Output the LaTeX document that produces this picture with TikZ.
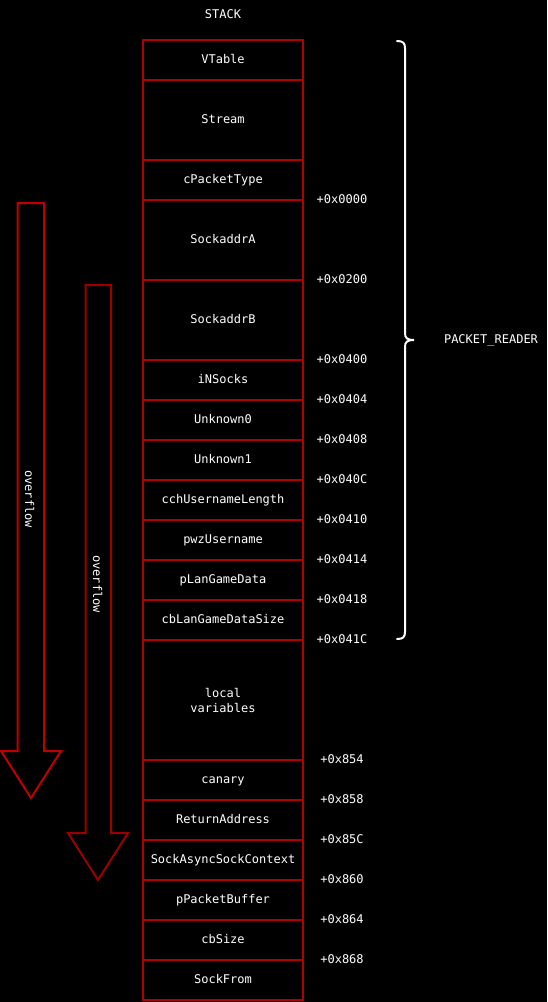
\documentclass[tikz,border=0pt]{standalone}
\usepackage{fontspec}
\setmonofont{DejaVu Sans Mono}
\definecolor{boxred}{HTML}{B00000}
\definecolor{arrred}{HTML}{C00000}
\definecolor{arrred2}{HTML}{9A0000}
\begin{document}
\begin{tikzpicture}[x=1pt,y=-1pt,
  txt/.style={text=white,font=\ttfamily\fontsize{12}{15}\selectfont,inner sep=0pt,text height=9.6pt,text depth=1.7pt},
  cell/.style={txt,draw=boxred,line width=2pt,minimum width=160pt,align=center},
  offs/.style={txt},
  bigarrow/.style={line width=2pt,line join=miter}]
\useasboundingbox[fill=black] (0,0) rectangle (547,1002);
\node[txt] (stack) at (223,15) {STACK};
% cells
\node[cell,minimum height=40pt] (c1) at (223,60) {VTable};
\node[cell,minimum height=80pt] (c2) at (223,120) {Stream};
\node[cell,minimum height=40pt] (c3) at (223,180) {cPacketType};
\node[cell,minimum height=80pt] (c4) at (223,240) {SockaddrA};
\node[cell,minimum height=80pt] (c5) at (223,320) {SockaddrB};
\node[cell,minimum height=40pt] (c6) at (223,380) {iNSocks};
\node[cell,minimum height=40pt] (c7) at (223,420) {Unknown0};
\node[cell,minimum height=40pt] (c8) at (223,460) {Unknown1};
\node[cell,minimum height=40pt] (c9) at (223,500) {cchUsernameLength};
\node[cell,minimum height=40pt] (c10) at (223,540) {pwzUsername};
\node[cell,minimum height=40pt] (c11) at (223,580) {pLanGameData};
\node[cell,minimum height=40pt] (c12) at (223,620) {cbLanGameDataSize};
\node[cell,minimum height=120pt,text height=,text depth=] (c13) at (223,700) {local\\variables};
\node[cell,minimum height=40pt] (c14) at (223,780) {canary};
\node[cell,minimum height=40pt] (c15) at (223,820) {ReturnAddress};
\node[cell,minimum height=40pt] (c16) at (223,860) {SockAsyncSockContext};
\node[cell,minimum height=40pt] (c17) at (223,900) {pPacketBuffer};
\node[cell,minimum height=40pt] (c18) at (223,940) {cbSize};
\node[cell,minimum height=40pt] (c19) at (223,980) {SockFrom};
% offsets
\node[offs] (o1) at (342,200) {+0x0000};
\node[offs] (o2) at (342,280) {+0x0200};
\node[offs] (o3) at (342,360) {+0x0400};
\node[offs] (o4) at (342,400) {+0x0404};
\node[offs] (o5) at (342,440) {+0x0408};
\node[offs] (o6) at (342,480) {+0x040C};
\node[offs] (o7) at (342,520) {+0x0410};
\node[offs] (o8) at (342,560) {+0x0414};
\node[offs] (o9) at (342,600) {+0x0418};
\node[offs] (o10) at (342,640) {+0x041C};
\node[offs] (o11) at (342,760) {+0x854};
\node[offs] (o12) at (342,800) {+0x858};
\node[offs] (o13) at (342,840) {+0x85C};
\node[offs] (o14) at (342,880) {+0x860};
\node[offs] (o15) at (342,920) {+0x864};
\node[offs] (o16) at (342,960) {+0x868};
% brace
\draw[white,line width=2pt,line cap=round]
  (397,41) .. controls (403,41) and (405,43) .. (405,48) -- (405,333)
  .. controls (405,338) and (407,340) .. (414,340)
  .. controls (407,340) and (405,342) .. (405,347) -- (405,632)
  .. controls (405,637) and (403,639) .. (397,639);
\node[txt] (pr) at (491,340) {PACKET\_READER};
% overflow arrows
\draw[bigarrow,draw=arrred] (17.5,203) -- (44,203) -- (44,751) -- (61,751) -- (31,798) -- (1,751) -- (17.5,751) -- cycle;
\node[txt,rotate=-90] (ov1) at (29,499) {overflow};
\draw[bigarrow,draw=arrred2] (85.5,285) -- (111,285) -- (111,833) -- (128,833) -- (98,880) -- (68,833) -- (85.5,833) -- cycle;
\node[txt,rotate=-90] (ov2) at (97,584) {overflow};
\end{tikzpicture}
\end{document}
